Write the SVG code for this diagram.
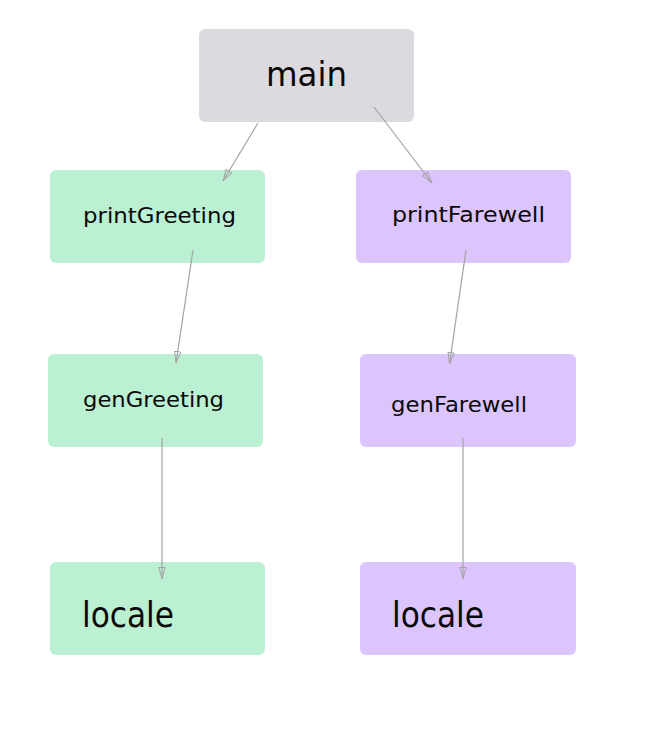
<svg xmlns="http://www.w3.org/2000/svg" width="658" height="739" viewBox="0 0 658 739">
<style>
.n rect{rx:6px;ry:6px}
.g{fill:#bcf0d3}
.p{fill:#dcc4fc}
.m{fill:#dcdadf}
text{font-family:"DejaVu Sans","Liberation Sans",sans-serif;fill:#0a0a0a}
.t{font-size:21.5px}
.b{font-size:35px}
.c line{stroke:#a3a3a3;stroke-width:1.2;marker-end:url(#ah)}
</style>
<defs>
<marker id="ah" markerUnits="userSpaceOnUse" viewBox="0 0 12 8" refX="12" refY="4" markerWidth="12" markerHeight="8" orient="auto">
<path d="M0.5,0.8 L11.5,4 L0.5,7.2 Z" fill="none" stroke="#a3a3a3" stroke-width="1"/>
</marker>
</defs>
<rect width="658" height="739" fill="#fff"/>
<g id="main" class="n"><rect class="m" x="199" y="29" width="215" height="93"/><text x="266" y="86" style="font-size:33px" textLength="81" lengthAdjust="spacingAndGlyphs">main</text></g>
<g id="printGreeting" class="n"><rect class="g" x="50" y="170" width="215" height="93"/><text class="t" x="83" y="222.5" textLength="153" lengthAdjust="spacingAndGlyphs">printGreeting</text></g>
<g id="printFarewell" class="n"><rect class="p" x="356" y="170" width="215" height="93"/><text class="t" x="392" y="222" textLength="153" lengthAdjust="spacingAndGlyphs">printFarewell</text></g>
<g id="genGreeting" class="n"><rect class="g" x="48" y="354" width="215" height="93"/><text class="t" x="83" y="406.5" textLength="141" lengthAdjust="spacingAndGlyphs">genGreeting</text></g>
<g id="genFarewell" class="n"><rect class="p" x="360" y="354" width="216" height="93"/><text class="t" x="391" y="411.5" textLength="136" lengthAdjust="spacingAndGlyphs">genFarewell</text></g>
<g id="localeG" class="n"><rect class="g" x="50" y="562" width="215" height="93"/><text class="b" x="82" y="626.5" textLength="92" lengthAdjust="spacingAndGlyphs">locale</text></g>
<g id="localeF" class="n"><rect class="p" x="360" y="562" width="216" height="93"/><text class="b" x="392" y="626.5" textLength="92" lengthAdjust="spacingAndGlyphs">locale</text></g>
<g id="connectors" class="c">
<line x1="258" y1="123" x2="223" y2="181"/>
<line x1="374" y1="107" x2="432" y2="183"/>
<line x1="193" y1="250" x2="176" y2="363"/>
<line x1="466" y1="250" x2="449.5" y2="364"/>
<line x1="162" y1="438" x2="162" y2="579"/>
<line x1="463" y1="438" x2="463" y2="579"/>
</g>
</svg>
